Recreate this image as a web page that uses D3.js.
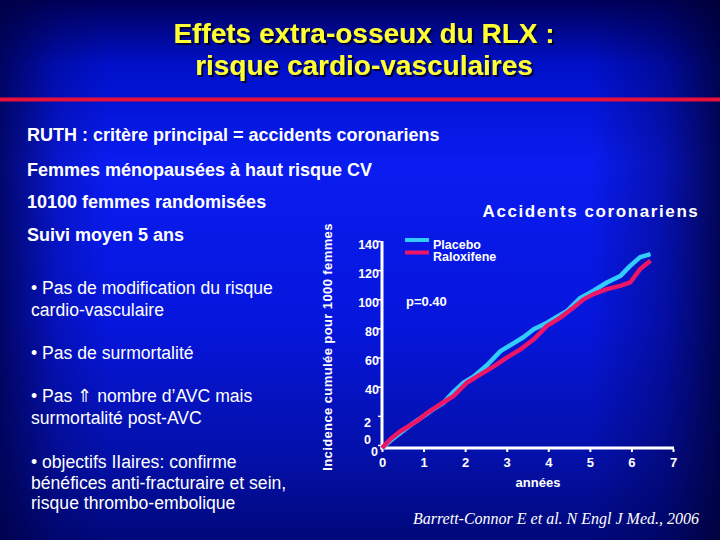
<!DOCTYPE html>
<html>
<head>
<meta charset="utf-8">
<script src="https://cdn.jsdelivr.net/npm/d3@7"></script>
<style>
html,body{margin:0;padding:0;background:#000080;}
svg{display:block;}
</style>
</head>
<body>
<svg id="chart" width="720" height="540" font-family="Liberation Sans, Arial, sans-serif"></svg>
<script>
// ---- data ----
const titleLines = ["Effets extra-osseux du RLX :", "risque cardio-vasculaires"];
const infoLines = ["RUTH : critère principal = accidents coronariens",
  "Femmes ménopausées à haut risque CV",
  "10100 femmes randomisées",
  "Suivi moyen 5 ans"];
const bulletLines = [
  ["• Pas de modification du risque", "cardio-vasculaire"],
  ["• Pas de surmortalité"],
  ["• Pas ⇑ nombre d’AVC mais", "surmortalité post-AVC"],
  ["• objectifs IIaires: confirme", "bénéfices anti-fracturaire et sein,", "risque thrombo-embolique"]
];
const chartTitle = "Accidents coronariens";
const yLabel = "Incidence cumulée pour 1000 femmes";
const xLabel = "années";
const citation = "Barrett-Connor E et al. N Engl J Med., 2006";
const pText = "p=0.40";
const xTicks = [0, 1, 2, 3, 4, 5, 6, 7];
const yTicks = [0, 20, 40, 60, 80, 100, 120, 140];
const seriesNames = ["Placebo", "Raloxifene"];
const seriesColors = ["#33ccff", "#ee1466"];
const placeboYears = [0, 0.2, 0.44, 0.7, 1.0, 1.2, 1.48, 1.7, 1.96, 2.2, 2.53, 2.85, 3.17, 3.4, 3.65, 3.97, 4.2, 4.45, 4.77, 5.09, 5.41, 5.73, 5.97, 6.21, 6.46];
const placeboVals  = [0, 5, 10.3, 16, 21.8, 26, 31, 38, 44.8, 49, 57, 66.5, 72, 76, 81.5, 86, 90, 94, 103, 108, 113.6, 118, 125, 131, 133];
const raloxYears = [0, 0.2, 0.44, 0.84, 1.08, 1.4, 1.72, 2.04, 2.37, 2.69, 3.0, 3.33, 3.65, 3.97, 4.29, 4.61, 4.85, 5.09, 5.41, 5.73, 5.97, 6.21, 6.46];
const raloxVals  = [0, 6, 11.5, 18.4, 24, 30, 35.6, 44.8, 50.5, 56, 62, 67.7, 74.6, 83.8, 89.5, 96.4, 102, 105.6, 109, 111.3, 113.6, 122.8, 128.5];

// ---- drawing ----
const svg = d3.select("#chart");
const defs = svg.append("defs");
const gv = defs.append("linearGradient").attr("id","bgv").attr("x1",0).attr("y1",0).attr("x2",0).attr("y2",1);
[[0,"#00005a"],[0.12,"#0010c8"],[0.3,"#0a1cf0"],[0.6,"#0616dc"],[0.85,"#0410a8"],[1,"#00087a"]]
  .forEach(([o,c])=>gv.append("stop").attr("offset",o).attr("stop-color",c));
const gh = defs.append("linearGradient").attr("id","bgh").attr("x1",0).attr("y1",0).attr("x2",1).attr("y2",0);
[[0,"#000040",0.75],[0.08,"#000040",0.2],[0.15,"#000040",0],[0.82,"#000040",0],[0.92,"#000040",0.35],[1,"#000030",0.8]]
  .forEach(([o,c,a])=>gh.append("stop").attr("offset",o).attr("stop-color",c).attr("stop-opacity",a));
const shadow = defs.append("filter").attr("id","sh").attr("x","-10%").attr("y","-10%").attr("width","120%").attr("height","130%");
shadow.append("feDropShadow").attr("dx",2).attr("dy",2).attr("stdDeviation",0.6).attr("flood-color","#000020").attr("flood-opacity",0.9);

svg.append("rect").attr("width",720).attr("height",540).attr("fill","url(#bgv)");
svg.append("rect").attr("width",720).attr("height",540).attr("fill","url(#bgh)");

// title
svg.append("g").selectAll("text").data(titleLines).join("text")
  .attr("x",364).attr("y",(d,i)=>43+i*32)
  .attr("text-anchor","middle").attr("fill","#ffff33")
  .attr("font-size",28).attr("font-weight","bold").attr("filter","url(#sh)")
  .text(d=>d);

// red line
svg.append("rect").attr("x",0).attr("y",97.5).attr("width",720).attr("height",4).attr("fill","#e8103a");

// info lines
svg.append("g").selectAll("text").data(infoLines).join("text")
  .attr("x",27).attr("y",(d,i)=>[141,176,208,241][i])
  .attr("fill","#ffffff").attr("font-size",18).attr("font-weight","bold")
  .text(d=>d);

// bullets
const bulletY = [[294,316],[359],[402,424],[468,489,509]];
const bg = svg.append("g");
bulletLines.forEach((lines,bi)=>{
  lines.forEach((l,li)=>{
    bg.append("text").attr("x",31).attr("y",bulletY[bi][li])
      .attr("fill","#ffffff").attr("font-size",17.6).text(l);
  });
});

// chart
const x = d3.scaleLinear().domain([0,7]).range([382,673]);
const y = d3.scaleLinear().domain([0,140]).range([448,244]);

svg.append("text").attr("x",591).attr("y",217).attr("text-anchor","middle")
  .attr("fill","#fff").attr("font-size",17).attr("font-weight","bold").attr("letter-spacing",1.6)
  .text(chartTitle);

svg.append("text").attr("transform","translate(332,347) rotate(-90)").attr("text-anchor","middle")
  .attr("fill","#fff").attr("font-size",13).attr("font-weight","bold").attr("letter-spacing",0.4)
  .text(yLabel);

// axes lines
svg.append("line").attr("x1",x(0)).attr("x2",x(0)).attr("y1",y(0)+1.5).attr("y2",y(142)).attr("stroke","#fff").attr("stroke-width",3);
svg.append("line").attr("x1",x(0)-1.5).attr("x2",x(7)+1).attr("y1",y(0)).attr("y2",y(0)).attr("stroke","#fff").attr("stroke-width",3);

// x ticks
const xAxis = svg.append("g").attr("transform",`translate(0,${y(0)})`)
  .call(d3.axisBottom(x).tickValues(xTicks).tickSize(3).tickPadding(7).tickFormat(d3.format("d")));
xAxis.attr("font-family",null);
xAxis.select(".domain").remove();
xAxis.selectAll(".tick line").attr("stroke","#fff").attr("stroke-width",2).attr("transform","translate(0,1)");
xAxis.selectAll(".tick text").attr("fill","#fff").attr("font-size",13).attr("font-weight","bold");

// y ticks
const yAxis = svg.append("g").attr("transform",`translate(${x(0)-1},0)`)
  .call(d3.axisLeft(y).tickValues(yTicks).tickSize(3).tickPadding(-1).tickFormat(d3.format("d")));
yAxis.attr("font-family",null);
yAxis.select(".domain").remove();
yAxis.selectAll(".tick line").attr("stroke","#fff").attr("stroke-width",1.5).attr("transform","translate(0,-3)");
yAxis.selectAll(".tick text").attr("fill","#fff").attr("font-size",12.5).attr("font-weight","bold");
// the 20 label wraps into two lines, the 0 label sits slightly lower
yAxis.selectAll(".tick").filter(d=>d===20).select("text").each(function(d){
  const t = d3.select(this); const s = String(d); t.text(null);
  t.attr("x",-9).attr("dy",null).attr("text-anchor","end");
  t.append("tspan").attr("x",-10).attr("dy","0.6em").text(s[0]);
  t.append("tspan").attr("x",-10).attr("dy","1.35em").text(s[1]);
});
yAxis.selectAll(".tick").filter(d=>d===0).select("text").attr("dy","0.62em").attr("x",-3);

// lines
const lineGen = d3.line().x(d=>x(d[0])).y(d=>y(d[1])).curve(d3.curveLinear);
const placebo = d3.zip(placeboYears, placeboVals);
const ralox = d3.zip(raloxYears, raloxVals);
svg.append("path").datum(placebo).attr("d",lineGen).attr("fill","none")
  .attr("stroke",seriesColors[0]).attr("stroke-width",4.5).attr("stroke-linejoin","round");
svg.append("path").datum(ralox).attr("d",lineGen).attr("fill","none")
  .attr("stroke",seriesColors[1]).attr("stroke-width",4.5).attr("stroke-linejoin","round");

// legend
const lg = svg.append("g");
seriesNames.forEach((n,i)=>{
  lg.append("rect").attr("x",405).attr("y",238+i*12.5).attr("width",24).attr("height",4).attr("fill",seriesColors[i]);
  lg.append("text").attr("x",433).attr("y",248.5+i*12.5).attr("fill","#fff").attr("font-size",12.5).attr("font-weight","bold").text(n);
});
svg.append("text").attr("x",406).attr("y",306).attr("fill","#fff").attr("font-size",13).attr("font-weight","bold").text(pText);

// x label
svg.append("text").attr("x",538).attr("y",487).attr("text-anchor","middle")
  .attr("fill","#fff").attr("font-size",13).attr("font-weight","bold").text(xLabel);

// citation
svg.append("text").attr("x",556).attr("y",524).attr("text-anchor","middle")
  .attr("fill","#fff").attr("font-size",16).attr("font-style","italic")
  .attr("font-family","Liberation Serif, Times New Roman, serif").text(citation);
</script>
</body>
</html>
